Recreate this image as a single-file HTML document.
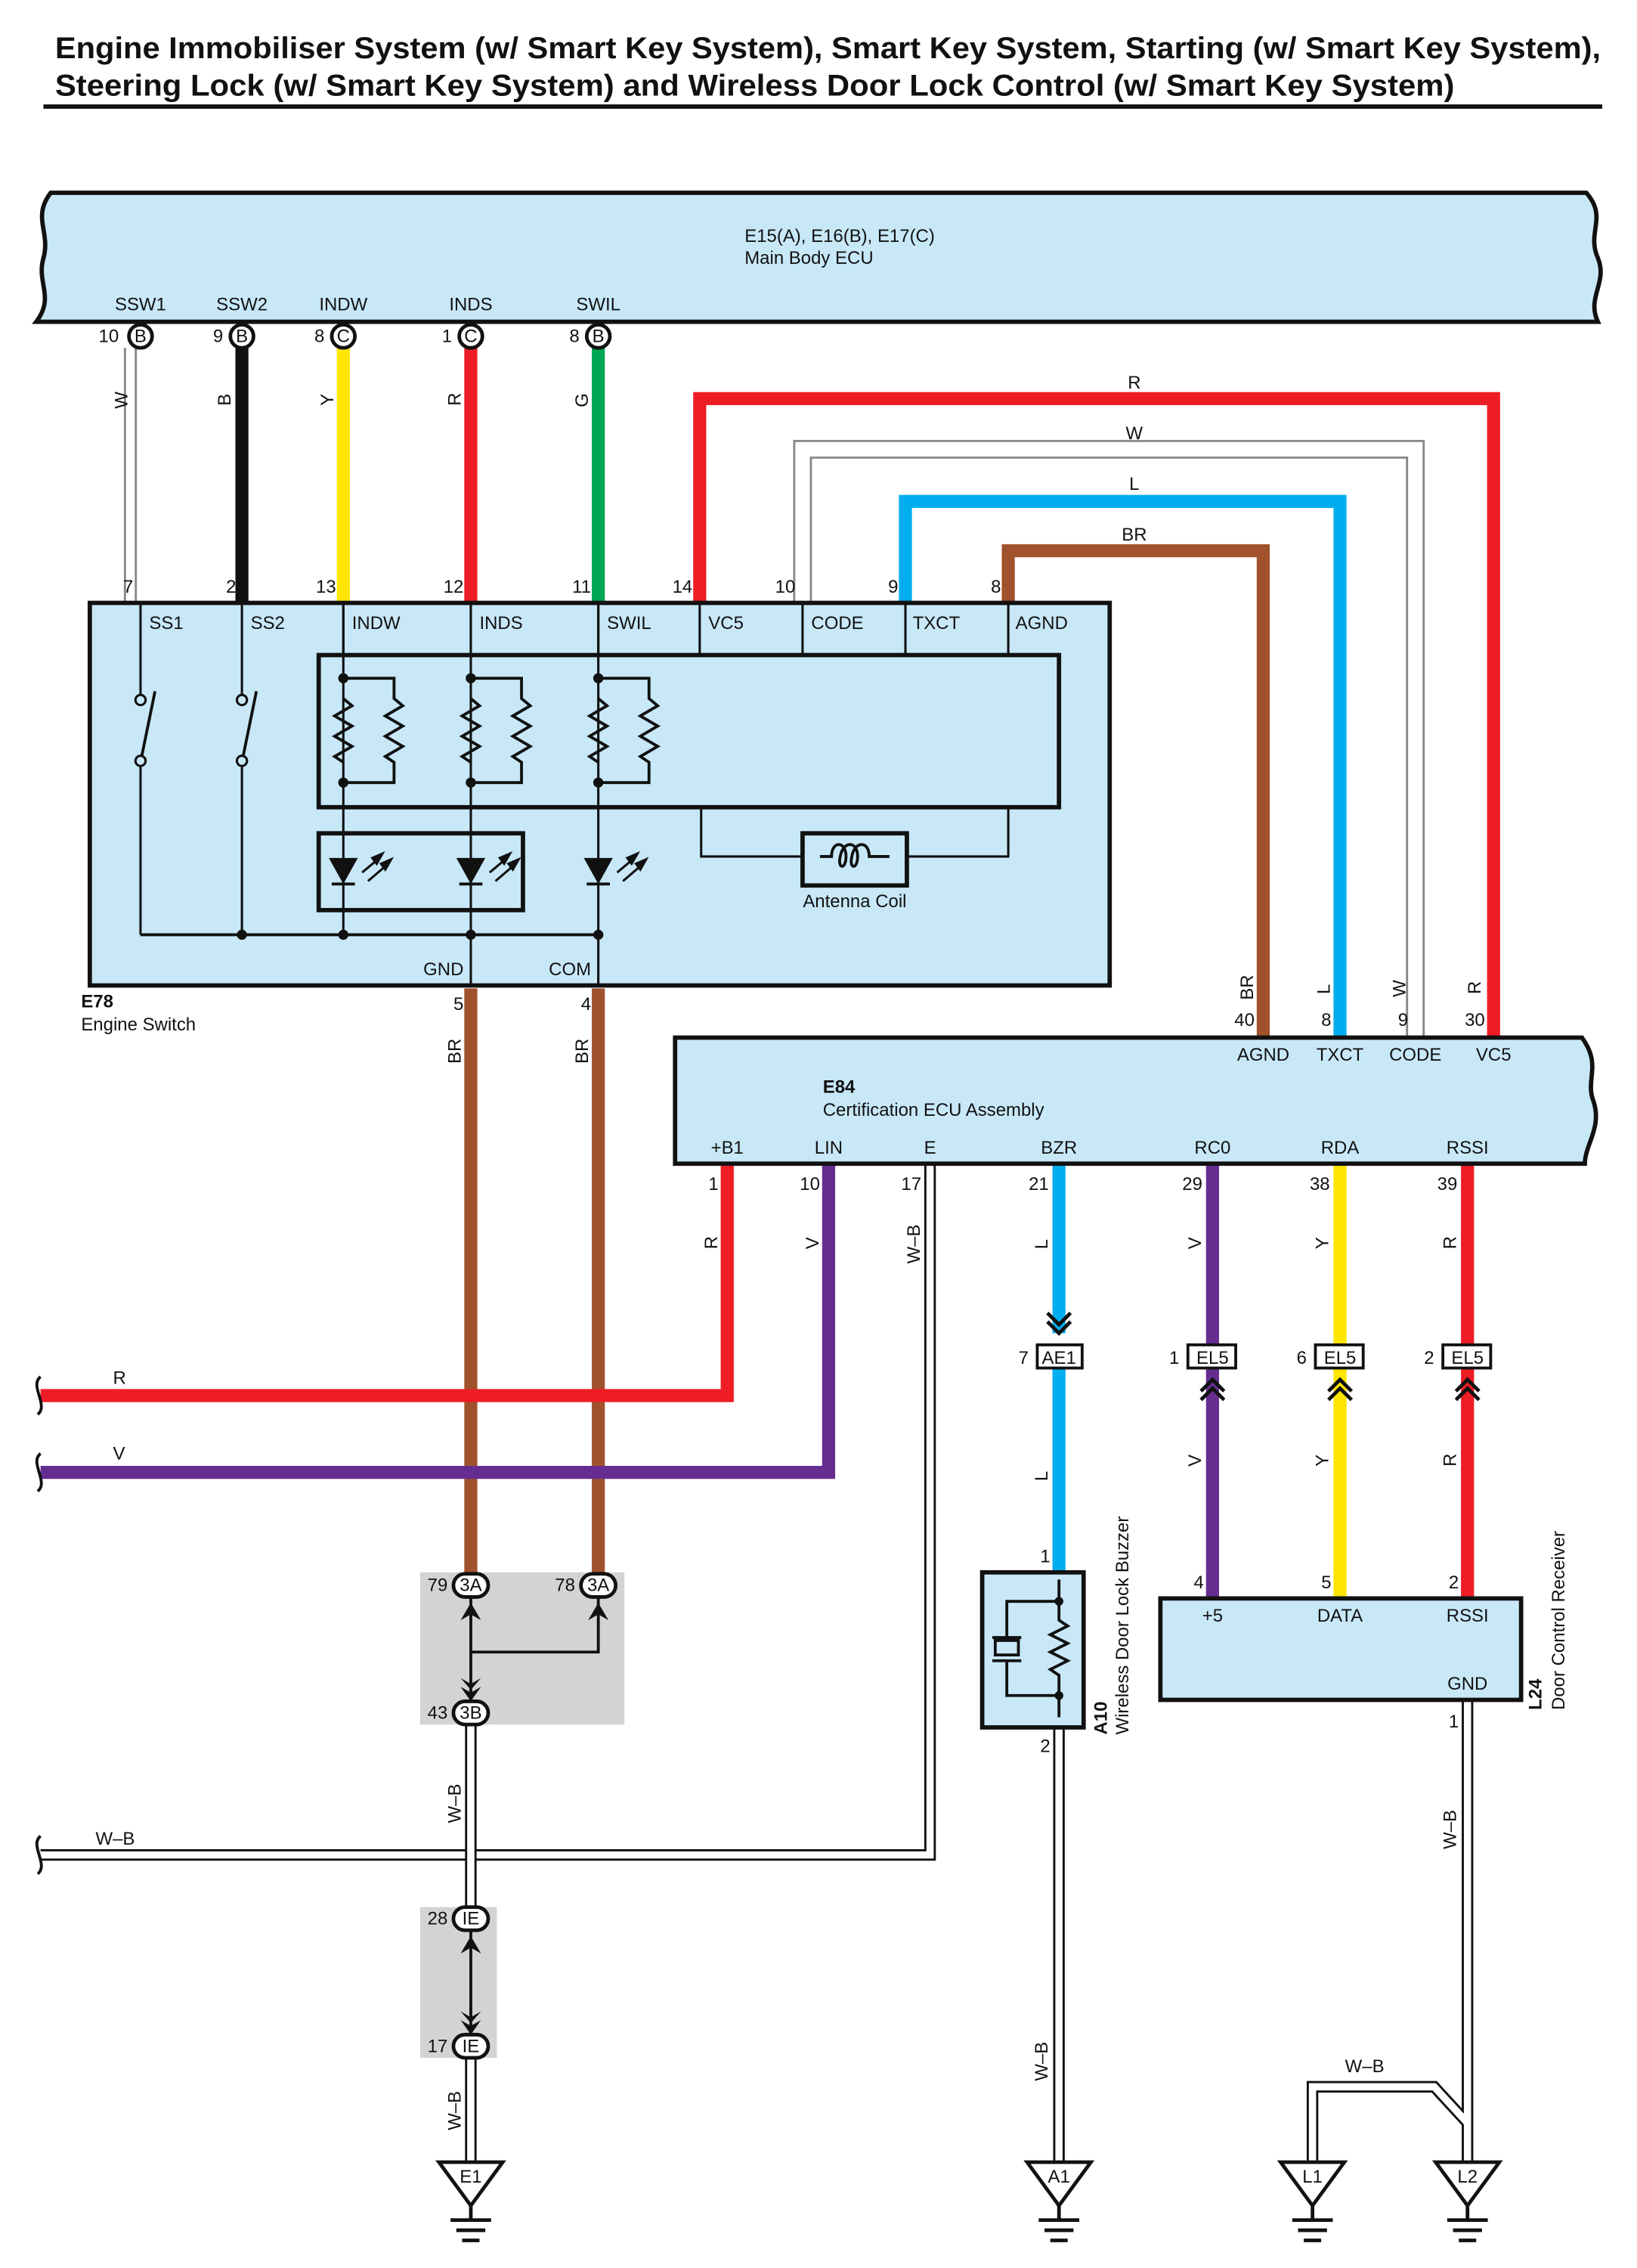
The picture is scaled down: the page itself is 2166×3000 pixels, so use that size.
<!DOCTYPE html>
<html><head><meta charset="utf-8"><style>
html,body{margin:0;padding:0;background:#fff}
svg{display:block}
text{font-family:"Liberation Sans",Arial,sans-serif;font-size:12.5px;fill:#111}
.t{font-size:21px;font-weight:bold}
.b{font-weight:bold}
</style></head><body>
<svg width="2166" height="3000" viewBox="0 0 1130 1565" xmlns="http://www.w3.org/2000/svg">
<text class="t" x="38" y="40" textLength="1067" lengthAdjust="spacingAndGlyphs">Engine Immobiliser System (w/ Smart Key System), Smart Key System, Starting (w/ Smart Key System),</text>
<text class="t" x="38" y="66" textLength="966" lengthAdjust="spacingAndGlyphs">Steering Lock (w/ Smart Key System) and Wireless Door Lock Control (w/ Smart Key System)</text>
<rect x="30" y="72" width="1076" height="3" fill="#111"/>

<!-- Main Body ECU -->
<path d="M35,133 H1095 C1110,150 1095,160 1103,178 C1110,195 1095,205 1103,222 H25 C38,205 25,195 30,178 C35,160 22,150 35,133 Z" fill="#c8e8f8" stroke="#111" stroke-width="3"/>
<text x="514" y="167">E15(A), E16(B), E17(C)</text>
<text x="514" y="182">Main Body ECU</text>
<g text-anchor="middle">
<text x="97" y="214">SSW1</text><text x="167" y="214">SSW2</text><text x="237" y="214">INDW</text><text x="325" y="214">INDS</text><text x="413" y="214">SWIL</text>
</g>

<!-- top wires -->
<g fill="none" stroke-linejoin="miter">
<line x1="90" y1="240" x2="90" y2="416" stroke="#888" stroke-width="9"/><line x1="90" y1="240" x2="90" y2="416" stroke="#fff" stroke-width="6"/>
<line x1="167" y1="240" x2="167" y2="416" stroke="#111" stroke-width="9"/>
<line x1="237" y1="240" x2="237" y2="416" stroke="#ffe600" stroke-width="9"/>
<line x1="325" y1="240" x2="325" y2="416" stroke="#ee1c25" stroke-width="9"/>
<line x1="413" y1="240" x2="413" y2="416" stroke="#00a651" stroke-width="9"/>
<polyline points="483,416 483,275 1031,275 1031,716" stroke="#ee1c25" stroke-width="9"/>
<polyline points="554,416 554,310 977,310 977,716" stroke="#888" stroke-width="13"/>
<polyline points="554,416 554,310 977,310 977,716" stroke="#fff" stroke-width="10"/>
<polyline points="625,416 625,346 925,346 925,716" stroke="#00aeef" stroke-width="9"/>
<polyline points="696,416 696,380 872,380 872,716" stroke="#a0522d" stroke-width="9"/>
</g>
<g>
<circle cx="97" cy="232" r="8" fill="#fff" stroke="#111" stroke-width="2.5"/><text x="97" y="236" text-anchor="middle" font-size="11">B</text><text x="82" y="236" text-anchor="end">10</text>
<circle cx="167" cy="232" r="8" fill="#fff" stroke="#111" stroke-width="2.5"/><text x="167" y="236" text-anchor="middle" font-size="11">B</text><text x="154" y="236" text-anchor="end">9</text>
<circle cx="237" cy="232" r="8" fill="#fff" stroke="#111" stroke-width="2.5"/><text x="237" y="236" text-anchor="middle" font-size="11">C</text><text x="224" y="236" text-anchor="end">8</text>
<circle cx="325" cy="232" r="8" fill="#fff" stroke="#111" stroke-width="2.5"/><text x="325" y="236" text-anchor="middle" font-size="11">C</text><text x="312" y="236" text-anchor="end">1</text>
<circle cx="413" cy="232" r="8" fill="#fff" stroke="#111" stroke-width="2.5"/><text x="413" y="236" text-anchor="middle" font-size="11">B</text><text x="400" y="236" text-anchor="end">8</text>
</g>
<g font-size="12">
<text transform="translate(88,282) rotate(-90)">W</text>
<text transform="translate(159,280) rotate(-90)">B</text>
<text transform="translate(230,280) rotate(-90)">Y</text>
<text transform="translate(318,280) rotate(-90)">R</text>
<text transform="translate(406,281) rotate(-90)">G</text>
<text x="783" y="268" text-anchor="middle">R</text>
<text x="783" y="303" text-anchor="middle">W</text>
<text x="783" y="338" text-anchor="middle">L</text>
<text x="783" y="373" text-anchor="middle">BR</text>
</g>
<g text-anchor="end">
<text x="92" y="409">7</text><text x="163" y="409">2</text><text x="232" y="409">13</text><text x="320" y="409">12</text><text x="408" y="409">11</text><text x="478" y="409">14</text><text x="549" y="409">10</text><text x="620" y="409">9</text><text x="691" y="409">8</text>
</g>

<!-- Engine switch -->
<rect x="62" y="416" width="704" height="264" fill="#c8e8f8" stroke="#111" stroke-width="3"/>
<g stroke="#111" stroke-width="1.6" fill="none">
<line x1="237" y1="416" x2="237" y2="452"/><line x1="325" y1="416" x2="325" y2="452"/><line x1="413" y1="416" x2="413" y2="452"/>
<line x1="483" y1="416" x2="483" y2="452"/><line x1="554" y1="416" x2="554" y2="452"/><line x1="625" y1="416" x2="625" y2="452"/><line x1="696" y1="416" x2="696" y2="452"/>
<line x1="97" y1="416" x2="97" y2="479"/><circle cx="97" cy="483" r="3.5"/><line x1="97" y1="529" x2="97" y2="645"/><circle cx="97" cy="525" r="3.5"/><line x1="98" y1="521" x2="107" y2="477" stroke-width="2"/>
<line x1="167" y1="416" x2="167" y2="479"/><circle cx="167" cy="483" r="3.5"/><line x1="167" y1="529" x2="167" y2="645"/><circle cx="167" cy="525" r="3.5"/><line x1="168" y1="521" x2="177" y2="477" stroke-width="2"/>
<line x1="97" y1="645" x2="413" y2="645" stroke-width="2"/>
<line x1="237" y1="416" x2="237" y2="645"/><line x1="325" y1="416" x2="325" y2="680"/><line x1="413" y1="416" x2="413" y2="680"/>
<polyline points="484,557 484,591 554,591"/><polyline points="626,591 696,591 696,557"/>
</g>
<rect x="220" y="452" width="511" height="105" fill="none" stroke="#111" stroke-width="3"/>
<g stroke="#111" stroke-width="2" fill="none">
<g id="res">
<polyline points="237,468 272,468 272,482 278,487 266,494 278,501 266,508 278,515 266,522 272,526 272,540 237,540"/>
<polyline points="237,482 243,487 231,494 243,501 231,508 243,515 231,522 237,526"/>
</g>
<use href="#res" x="88"/><use href="#res" x="176"/>
</g>
<g fill="#111">
<circle cx="237" cy="468" r="3.5"/><circle cx="237" cy="540" r="3.5"/><circle cx="325" cy="468" r="3.5"/><circle cx="325" cy="540" r="3.5"/><circle cx="413" cy="468" r="3.5"/><circle cx="413" cy="540" r="3.5"/>
<circle cx="167" cy="645" r="3.5"/><circle cx="237" cy="645" r="3.5"/><circle cx="325" cy="645" r="3.5"/><circle cx="413" cy="645" r="3.5"/>
</g>
<rect x="220" y="575" width="141" height="53" fill="none" stroke="#111" stroke-width="3"/>
<g id="led">
<path d="M227,592 H247 L237,610 Z" fill="#111"/><line x1="229" y1="610" x2="245" y2="610" stroke="#111" stroke-width="2"/>
<g stroke="#111" stroke-width="1.6" fill="#111"><line x1="250" y1="602" x2="262" y2="592"/><line x1="254" y1="608" x2="268" y2="596"/>
<path d="M264,589 L260,596 L257,592Z"/><path d="M270,593 L266,600 L263,596Z"/></g>
</g>
<use href="#led" x="88"/><use href="#led" x="176"/>
<rect x="554" y="575" width="72" height="36" fill="none" stroke="#111" stroke-width="3"/>
<path d="M566,591 H574 C574,580 584,580 584,591 C584,600 578,600 580,591 C582,580 592,580 592,591 C592,600 586,600 588,591 C590,580 600,580 600,591 H614" fill="none" stroke="#111" stroke-width="2"/>
<text x="590" y="626" text-anchor="middle">Antenna Coil</text>
<g>
<text x="103" y="434">SS1</text><text x="173" y="434">SS2</text><text x="243" y="434">INDW</text><text x="331" y="434">INDS</text><text x="419" y="434">SWIL</text><text x="489" y="434">VC5</text><text x="560" y="434">CODE</text><text x="630" y="434">TXCT</text><text x="701" y="434">AGND</text>
<text x="320" y="673" text-anchor="end">GND</text><text x="408" y="673" text-anchor="end">COM</text>
<text x="56" y="695" class="b">E78</text><text x="56" y="711">Engine Switch</text>
<text x="320" y="697" text-anchor="end">5</text><text x="408" y="697" text-anchor="end">4</text>
</g>

<!-- lower wires -->
<g fill="none">
<line x1="325" y1="682" x2="325" y2="1088" stroke="#a0522d" stroke-width="9"/>
<line x1="413" y1="682" x2="413" y2="1088" stroke="#a0522d" stroke-width="9"/>
<polyline points="28,963 502,963 502,803" stroke="#ee1c25" stroke-width="9"/>
<polyline points="28,1016 572,1016 572,803" stroke="#662d91" stroke-width="9"/>
<polyline points="28,1280 642,1280 642,803" stroke="#111" stroke-width="8"/>
<polyline points="28,1280 642,1280 642,803" stroke="#fff" stroke-width="5"/>
<line x1="731" y1="803" x2="731" y2="920" stroke="#00aeef" stroke-width="9"/>
<line x1="731" y1="944" x2="731" y2="1085" stroke="#00aeef" stroke-width="9"/>
<line x1="837" y1="803" x2="837" y2="928" stroke="#662d91" stroke-width="9"/>
<line x1="837" y1="944" x2="837" y2="1103" stroke="#662d91" stroke-width="9"/>
<line x1="925" y1="803" x2="925" y2="928" stroke="#ffe600" stroke-width="9"/>
<line x1="925" y1="944" x2="925" y2="1103" stroke="#ffe600" stroke-width="9"/>
<line x1="1013" y1="803" x2="1013" y2="928" stroke="#ee1c25" stroke-width="9"/>
<line x1="1013" y1="944" x2="1013" y2="1103" stroke="#ee1c25" stroke-width="9"/>
<g stroke="#111" stroke-width="8">
<line x1="325" y1="1190" x2="325" y2="1316"/><line x1="325" y1="1420" x2="325" y2="1492"/>
<line x1="731" y1="1192" x2="731" y2="1492"/><line x1="1013" y1="1173" x2="1013" y2="1492"/>
<polyline points="906,1492 906,1440 990,1440 1013,1465"/>
</g>
<g stroke="#fff" stroke-width="5">
<line x1="325" y1="1190" x2="325" y2="1316"/><line x1="325" y1="1420" x2="325" y2="1492"/>
<line x1="731" y1="1192" x2="731" y2="1492"/><line x1="1013" y1="1173" x2="1013" y2="1492"/>
<polyline points="906,1492 906,1440 990,1440 1013,1465"/>
</g>
</g>
<g fill="none" stroke="#111" stroke-width="2">
<path d="M28,950 C20,956 34,970 26,976"/><path d="M28,1003 C20,1009 34,1023 26,1029"/><path d="M28,1267 C20,1273 34,1287 26,1293"/>
</g>
<g>
<text x="78" y="955">R</text><text x="78" y="1007">V</text><text x="66" y="1273">W–B</text>
<text transform="translate(318,734) rotate(-90)">BR</text><text transform="translate(406,734) rotate(-90)">BR</text>
<text transform="translate(495,862) rotate(-90)">R</text><text transform="translate(565,862) rotate(-90)">V</text><text transform="translate(635,872) rotate(-90)">W–B</text>
<text transform="translate(723,862) rotate(-90)">L</text><text transform="translate(829,862) rotate(-90)">V</text><text transform="translate(917,862) rotate(-90)">Y</text><text transform="translate(1005,862) rotate(-90)">R</text>
<text transform="translate(723,1022) rotate(-90)">L</text><text transform="translate(829,1012) rotate(-90)">V</text><text transform="translate(917,1012) rotate(-90)">Y</text><text transform="translate(1005,1012) rotate(-90)">R</text>
<text transform="translate(318,1258) rotate(-90)">W–B</text><text transform="translate(318,1470) rotate(-90)">W–B</text>
<text transform="translate(723,1436) rotate(-90)">W–B</text><text transform="translate(1005,1276) rotate(-90)">W–B</text>
<text x="942" y="1430" text-anchor="middle">W–B</text>
<text transform="translate(865,690) rotate(-90)">BR</text><text transform="translate(918,686) rotate(-90)">L</text><text transform="translate(970,688) rotate(-90)">W</text><text transform="translate(1022,686) rotate(-90)">R</text>
</g>

<!-- Certification ECU -->
<path d="M466,716 H1092 C1106,735 1094,745 1100,760 C1106,778 1094,790 1094,803 H466 Z" fill="#c8e8f8" stroke="#111" stroke-width="3"/>
<g text-anchor="end"><text x="866" y="708">40</text><text x="919" y="708">8</text><text x="972" y="708">9</text><text x="1025" y="708">30</text>
<text x="496" y="821">1</text><text x="566" y="821">10</text><text x="636" y="821">17</text><text x="724" y="821">21</text><text x="830" y="821">29</text><text x="918" y="821">38</text><text x="1006" y="821">39</text></g>
<g text-anchor="middle"><text x="872" y="732">AGND</text><text x="925" y="732">TXCT</text><text x="977" y="732">CODE</text><text x="1031" y="732">VC5</text>
<text x="502" y="796">+B1</text><text x="572" y="796">LIN</text><text x="642" y="796">E</text><text x="731" y="796">BZR</text><text x="837" y="796">RC0</text><text x="925" y="796">RDA</text><text x="1013" y="796">RSSI</text></g>
<text x="568" y="754" class="b">E84</text><text x="568" y="770">Certification ECU Assembly</text>

<g fill="none" stroke="#111" stroke-width="2.5">
<polyline points="723,906 731,914 739,906"/><polyline points="723,912 731,920 739,912"/>
<polyline points="829,960 837,952 845,960"/><polyline points="829,966 837,958 845,966"/>
<polyline points="917,960 925,952 933,960"/><polyline points="917,966 925,958 933,966"/>
<polyline points="1005,960 1013,952 1021,960"/><polyline points="1005,966 1013,958 1021,966"/>
</g>
<g>
<rect x="716" y="928" width="31" height="16" fill="#fff" stroke="#111" stroke-width="2"/><text x="731" y="941" text-anchor="middle">AE1</text><text x="710" y="941" text-anchor="end">7</text>
<rect x="820" y="928" width="33" height="16" fill="#fff" stroke="#111" stroke-width="2"/><text x="837" y="941" text-anchor="middle">EL5</text><text x="814" y="941" text-anchor="end">1</text>
<rect x="908" y="928" width="33" height="16" fill="#fff" stroke="#111" stroke-width="2"/><text x="925" y="941" text-anchor="middle">EL5</text><text x="902" y="941" text-anchor="end">6</text>
<rect x="996" y="928" width="33" height="16" fill="#fff" stroke="#111" stroke-width="2"/><text x="1013" y="941" text-anchor="middle">EL5</text><text x="990" y="941" text-anchor="end">2</text>
</g>

<rect x="801" y="1103" width="249" height="70" fill="#c8e8f8" stroke="#111" stroke-width="3"/>
<g text-anchor="middle"><text x="837" y="1119">+5</text><text x="925" y="1119">DATA</text><text x="1013" y="1119">RSSI</text><text x="1013" y="1166">GND</text></g>
<g text-anchor="end"><text x="831" y="1096">4</text><text x="919" y="1096">5</text><text x="1007" y="1096">2</text><text x="1007" y="1192">1</text><text x="725" y="1078">1</text><text x="725" y="1209">2</text></g>
<text transform="translate(1064,1180) rotate(-90)"><tspan class="b">L24</tspan></text>
<text transform="translate(1080,1180) rotate(-90)">Door Control Receiver</text>

<rect x="678" y="1085" width="70" height="107" fill="#c8e8f8" stroke="#111" stroke-width="3"/>
<g stroke="#111" stroke-width="2" fill="none">
<polyline points="731,1090 731,1105 695,1105 695,1130"/><polyline points="695,1146 695,1170 731,1170 731,1185"/>
<rect x="687" y="1132" width="16" height="10"/><line x1="685" y1="1130" x2="705" y2="1130"/><line x1="685" y1="1146" x2="705" y2="1146"/>
<polyline points="731,1105 731,1118 737,1122 725,1128 737,1134 725,1140 737,1146 725,1152 731,1156 731,1170"/>
</g>
<circle cx="731" cy="1105" r="3" fill="#111"/><circle cx="731" cy="1170" r="3" fill="#111"/>
<text transform="translate(764,1197) rotate(-90)"><tspan class="b">A10</tspan></text>
<text transform="translate(779,1197) rotate(-90)">Wireless Door Lock Buzzer</text>

<rect x="290" y="1085" width="141" height="105" fill="#d3d3d3"/>
<rect x="290" y="1316" width="53" height="104" fill="#d3d3d3"/>
<g fill="none" stroke="#111" stroke-width="2">
<polyline points="325,1100 325,1140 413,1140 413,1100"/><line x1="325" y1="1140" x2="325" y2="1176"/>
<line x1="325" y1="1330" x2="325" y2="1406"/>
</g>
<g fill="#111">
<path d="M318,1118 L325,1106 L332,1118 L325,1114Z"/><path d="M406,1118 L413,1106 L420,1118 L413,1114Z"/>
<path d="M318,1158 L325,1166 L332,1158 L325,1162Z"/><path d="M318,1164 L325,1174 L332,1164 L325,1168Z"/>
<path d="M318,1348 L325,1336 L332,1348 L325,1344Z"/>
<path d="M318,1388 L325,1396 L332,1388 L325,1392Z"/><path d="M318,1394 L325,1404 L332,1394 L325,1398Z"/>
</g>
<g>
<rect x="313" y="1086" width="24" height="16" rx="8" fill="#fff" stroke="#111" stroke-width="2.5"/><text x="325" y="1098" text-anchor="middle" font-size="11">3A</text><text x="309" y="1098" text-anchor="end">79</text>
<rect x="401" y="1086" width="24" height="16" rx="8" fill="#fff" stroke="#111" stroke-width="2.5"/><text x="413" y="1098" text-anchor="middle" font-size="11">3A</text><text x="397" y="1098" text-anchor="end">78</text>
<rect x="313" y="1174" width="24" height="16" rx="8" fill="#fff" stroke="#111" stroke-width="2.5"/><text x="325" y="1186" text-anchor="middle" font-size="11">3B</text><text x="309" y="1186" text-anchor="end">43</text>
<rect x="313" y="1316" width="24" height="16" rx="8" fill="#fff" stroke="#111" stroke-width="2.5"/><text x="325" y="1328" text-anchor="middle" font-size="11">IE</text><text x="309" y="1328" text-anchor="end">28</text>
<rect x="313" y="1404" width="24" height="16" rx="8" fill="#fff" stroke="#111" stroke-width="2.5"/><text x="325" y="1416" text-anchor="middle" font-size="11">IE</text><text x="309" y="1416" text-anchor="end">17</text>
</g>

<g id="gnd" stroke="#111" stroke-width="2.5" fill="#fff">
<path d="M303,1492 H347 L325,1522 Z"/>
<line x1="325" y1="1522" x2="325" y2="1532"/><line x1="311" y1="1532" x2="339" y2="1532"/><line x1="315" y1="1539" x2="335" y2="1539"/><line x1="319" y1="1546" x2="331" y2="1546"/>
</g>
<use href="#gnd" x="406"/><use href="#gnd" x="581"/><use href="#gnd" x="688"/>
<g text-anchor="middle" font-size="11"><text x="325" y="1506">E1</text><text x="731" y="1506">A1</text><text x="906" y="1506">L1</text><text x="1013" y="1506">L2</text></g>
</svg>
</body></html>
